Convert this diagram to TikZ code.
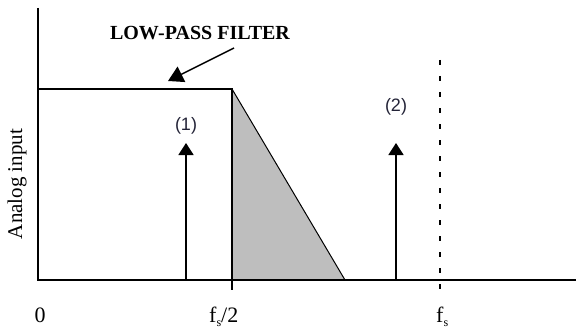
\documentclass[tikz,border=0pt]{standalone}
\usepackage{fontspec}
\setmainfont{Liberation Serif}
\newfontfamily\arialfont{Liberation Sans}
\usetikzlibrary{arrows.meta}
\definecolor{fillgray}{RGB}{190,190,190}
\definecolor{numcol}{RGB}{35,35,55}
\tikzset{
  axisline/.style={line width=2.8pt},
  filterline/.style={line width=2.4pt},
  spike/.style={line width=1.7pt,-{Triangle[length=12pt,width=15pt]}},
  pointer/.style={line width=1.4pt,-{Triangle[length=15pt,width=17pt]}},
  axlabel/.style={font=\fontsize{22}{26}\selectfont, inner sep=0pt},
  numlabel/.style={font=\arialfont\fontsize{18}{21}\selectfont, text=numcol, inner sep=0pt},
}
\begin{document}
\begin{tikzpicture}[x=1pt,y=-1pt]
\useasboundingbox (0,0) rectangle (576,329);
% key points
\coordinate (O) at (38,280);
\coordinate (ytop) at (38,8);
\coordinate (xend) at (576,280);
\coordinate (ftl) at (38,89);
\coordinate (ftr) at (232,89);
\coordinate (fbot) at (232,290);
\coordinate (fbase) at (232,280);
\coordinate (tri) at (345,280);
\coordinate (s1b) at (186,280);
\coordinate (s1t) at (186,143);
\coordinate (s2b) at (396,280);
\coordinate (s2t) at (396,143);
\coordinate (fst) at (440,60);
\coordinate (fsb) at (440,290);
\coordinate (pstart) at (234,48);
\coordinate (ptip) at (168,81);
% gray roll-off
\fill[fillgray] (ftr) -- (tri) -- (fbase) -- cycle;
\draw[line width=1pt] (ftr) -- (tri);
% filter
\draw[filterline] (ftl) -- (ftr) -- (fbot);
% fs dashed
\draw[line width=2pt, dash pattern=on 5pt off 11pt] (fst) -- (fsb);
% axes
\draw[axisline] (ytop) -- (O) -- (xend);
% spikes
\draw[spike] (s1b) -- (s1t);
\draw[spike] (s2b) -- (s2t);
% pointer
\draw[pointer] (pstart) -- (ptip);
% labels
\node[font=\bfseries\fontsize{20}{24}\selectfont, inner sep=0pt] (lpf) at (200,33) {LOW-PASS FILTER};
\node[numlabel] (n1) at (186,126) {(1)};
\node[numlabel] (n2) at (396,107) {(2)};
\node[font=\fontsize{21}{25}\selectfont, inner sep=0pt, rotate=90] (ylab) at (17,184) {Analog input};
\node[axlabel, anchor=base] (l0) at (40,322) {0};
\node[axlabel, anchor=base west] (lh) at (209,322) {f\raisebox{-0.45ex}{\fontsize{12}{13}\selectfont s}/2};
\node[axlabel, anchor=base west] (lf) at (436,322) {f\raisebox{-0.45ex}{\fontsize{12}{13}\selectfont s}};
\end{tikzpicture}
\end{document}
